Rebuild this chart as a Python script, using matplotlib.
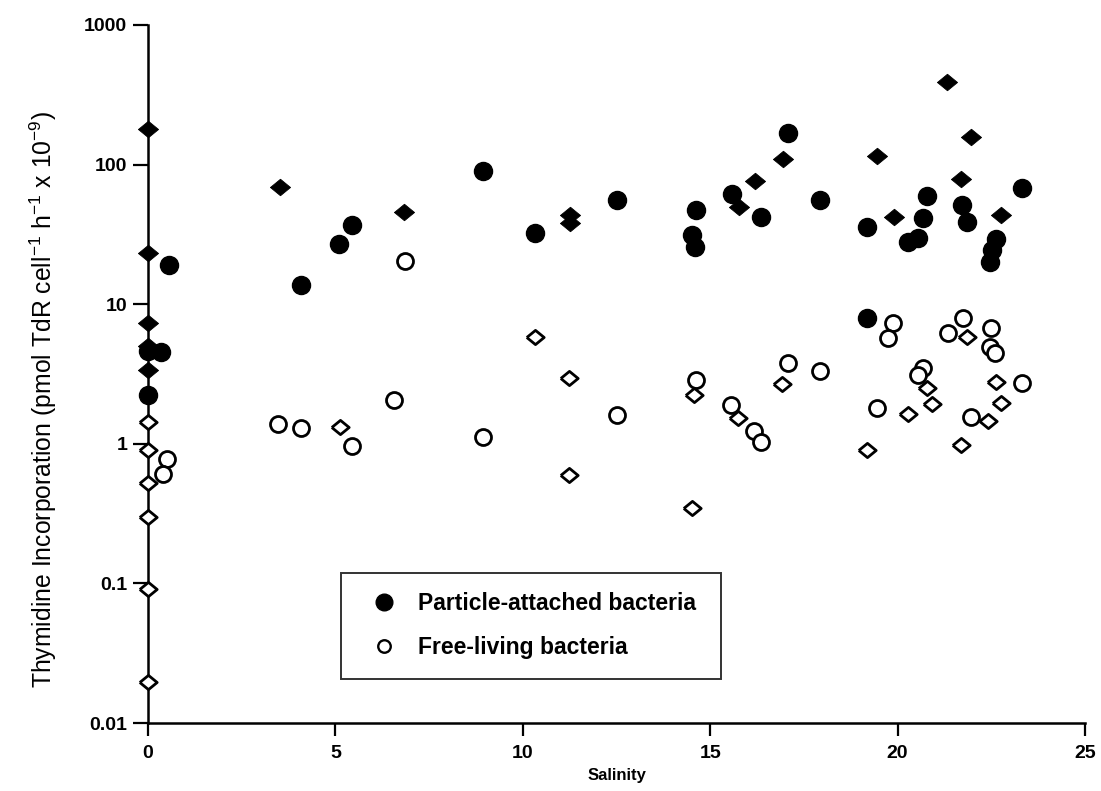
import matplotlib
matplotlib.use("Agg")
import matplotlib.pyplot as plt
from matplotlib.lines import Line2D
from matplotlib.ticker import FixedLocator, FixedFormatter, NullLocator
import numpy as np

# Particle-attached bacteria (filled) -- circles
pa_circ_x = [0.55, 0.36, 0.0, 0.0, 4.07, 5.43, 5.10, 8.95, 10.33, 12.50, 14.63, 14.52, 14.60,
             15.59, 16.36, 17.08, 17.93, 19.19, 23.32, 20.79, 21.72, 21.85, 20.68, 20.27,
             20.55, 22.63, 22.51, 22.47, 19.19]
pa_circ_y = [19.1, 4.55, 2.24, 4.6, 13.7, 36.9, 27.0, 90.0, 32.4, 55.7, 47.3, 31.3, 25.7,
             61.5, 42.2, 168.0, 55.7, 35.7, 67.9, 59.6, 51.4, 38.8, 41.4, 27.9,
             29.8, 29.3, 24.4, 20.0, 7.96]
# Particle-attached bacteria (filled) -- diamonds
pa_diam_x = [0.0, 0.0, 0.0, 0.0, 0.0, 3.51, 6.84, 11.27, 11.27, 15.77, 16.20, 16.95,
             21.32, 21.96, 19.45, 21.69, 19.90, 22.76]
pa_diam_y = [180.0, 23.3, 7.3, 5.0, 3.4, 69.0, 45.7, 43.5, 38.2, 49.6, 76.4, 109.6,
             391.0, 158.0, 115.0, 78.9, 42.2, 43.5]
# Free-living bacteria (open) -- circles
fl_circ_x = [6.87, 19.88, 19.75, 21.75, 21.35, 22.49, 22.47, 22.60, 20.68, 20.55, 23.32,
             19.45, 21.96, 12.50, 14.63, 15.55, 16.17, 16.36, 17.08, 17.93, 6.57, 8.95,
             3.48, 4.07, 5.43, 0.52, 0.39]
fl_circ_y = [20.4, 7.33, 5.73, 7.96, 6.22, 6.76, 4.93, 4.47, 3.49, 3.11, 2.73,
             1.80, 1.56, 1.61, 2.86, 1.90, 1.24, 1.03, 3.79, 3.32, 2.06, 1.12,
             1.39, 1.30, 0.96, 0.78, 0.61]
# Free-living bacteria (open) -- diamonds
fl_diam_x = [10.33, 21.85, 20.79, 22.63, 20.27, 20.92, 22.76, 22.41, 19.19, 21.69, 14.57,
             15.75, 16.92, 14.52, 11.24, 11.24, 5.11, 0.0, 0.0, 0.0, 0.0, 0.0, 0.0]
fl_diam_y = [5.8, 5.82, 2.51, 2.77, 1.63, 1.93, 1.96, 1.46, 0.90, 0.98, 2.24,
             1.53, 2.68, 0.347, 2.96, 0.60, 1.32, 1.43, 0.90, 0.52, 0.30, 0.091, 0.0197]

y_ticks = [0.01, 0.1, 1, 10, 100, 1000]
y_tick_labels = ["0.01", "0.1", "1", "10", "100", "1000"]
x_ticks = [0, 5, 10, 15, 20, 25]
x_tick_labels = ["0", "5", "10", "15", "20", "25"]
legend_labels = ["Particle-attached bacteria", "Free-living bacteria"]

plt.rcParams['font.family'] = ['Liberation Sans', 'DejaVu Sans']

fig = plt.figure(figsize=(11.01, 7.91), dpi=100)
ax = fig.add_axes([148/1101, 1-723/791, 937/1101, 698/791])

diamond = [(-1, 0), (0, 0.82), (1, 0), (0, -0.82), (-1, 0)]

ax.plot(pa_circ_x, pa_circ_y, linestyle='none', marker='o', markersize=13,
        mfc='black', mec='black', clip_on=False, zorder=3)
ax.plot(pa_diam_x, pa_diam_y, linestyle='none', marker=diamond, markersize=14.5,
        mfc='black', mec='black', mew=0.6, clip_on=False, zorder=3)
ax.plot(fl_circ_x, fl_circ_y, linestyle='none', marker='o', markersize=11.5,
        mfc='white', mec='black', mew=2.0, clip_on=False, zorder=4)
ax.plot(fl_diam_x, fl_diam_y, linestyle='none', marker=diamond, markersize=12.5,
        mfc='white', mec='black', mew=2.0, clip_on=False, zorder=4)

ax.set_yscale('log')
ax.set_xlim(0, 25)
ax.set_ylim(0.01, 1000)
ax.yaxis.set_major_locator(FixedLocator(y_ticks))
ax.yaxis.set_major_formatter(FixedFormatter(y_tick_labels))
ax.yaxis.set_minor_locator(NullLocator())
ax.set_xticks(x_ticks)
ax.set_xticklabels(x_tick_labels)

for s in ['top', 'right']:
    ax.spines[s].set_visible(False)
for s in ['left', 'bottom']:
    ax.spines[s].set_linewidth(1.8)

ax.tick_params(axis='y', direction='out', length=11, width=1.6, pad=4, labelsize=14)
ax.tick_params(axis='x', direction='out', length=9.5, width=1.6, pad=6, labelsize=14)
for lab in ax.get_xticklabels() + ax.get_yticklabels():
    lab.set_fontweight('bold')

ax.set_ylabel(r"Thymidine Incorporation (pmol TdR cell$^{\mathregular{-1}}$ h$^{\mathregular{-1}}$ x 10$^{\mathregular{-9}}$)",
              fontsize=17.8)
ax.yaxis.set_label_coords(-0.095, 0.463)
ax.set_xlabel("Salinity", fontsize=12, fontweight='bold')
ax.xaxis.set_label_coords(0.5, -0.065)

handles = [Line2D([], [], linestyle='none', marker='o', markersize=12, mfc='black', mec='black'),
           Line2D([], [], linestyle='none', marker='o', markersize=9, mfc='white', mec='black', mew=1.7)]
leg = ax.legend(handles, legend_labels, loc='lower left',
                bbox_to_anchor=((341-148)/937, (723-679)/698, 380/937, 106/698),
                mode='expand', prop={'weight': 'bold', 'size': 16.5},
                frameon=True, fancybox=False, borderpad=0.86, labelspacing=0.92,
                handlelength=2.0, handletextpad=0.5, borderaxespad=0)
leg.get_frame().set_edgecolor('black')
leg.get_frame().set_linewidth(1.4)

fig.savefig("out.png", dpi=100)
